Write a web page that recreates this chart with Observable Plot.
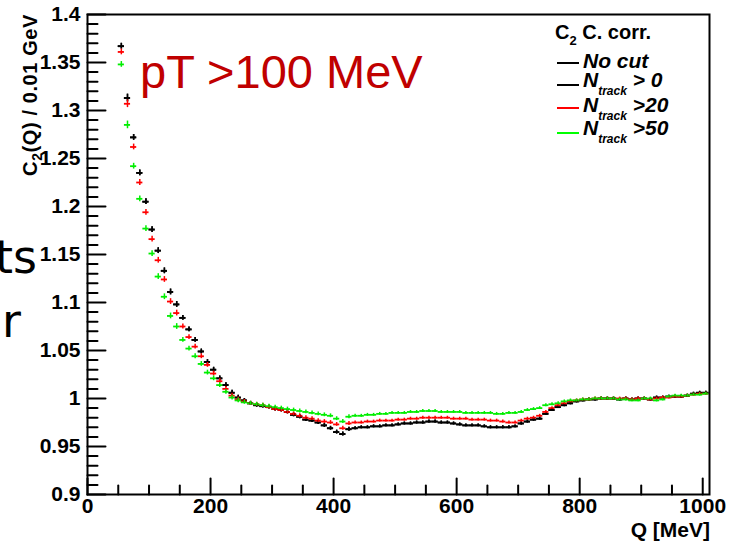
<!DOCTYPE html>
<html>
<head>
<meta charset="utf-8">
<script src="https://cdn.jsdelivr.net/npm/d3@7"></script>
<script src="https://cdn.jsdelivr.net/npm/@observablehq/plot@0.6"></script>
<style>
  html, body { margin: 0; padding: 0; background: #fff; }
  #chart svg { display: block; }
</style>
</head>
<body>
<div id="chart"></div>
<script>
// ---- data ----
const binWidth = 10; // MeV (0.01 GeV)
const qCenters = [
  55, 65, 75, 85, 95, 105, 115, 125, 135, 145,
  155, 165, 175, 185, 195, 205, 215, 225, 235, 245,
  255, 265, 275, 285, 295, 305, 315, 325, 335, 345,
  355, 365, 375, 385, 395, 405, 415, 425, 435, 445,
  455, 465, 475, 485, 495, 505, 515, 525, 535, 545,
  555, 565, 575, 585, 595, 605, 615, 625, 635, 645,
  655, 665, 675, 685, 695, 705, 715, 725, 735, 745,
  755, 765, 775, 785, 795, 805, 815, 825, 835, 845,
  855, 865, 875, 885, 895, 905, 915, 925, 935, 945,
  955, 965, 975, 985, 995, 1005
];
const noCut = [
  1.367, 1.313, 1.272, 1.235, 1.205, 1.176, 1.154, 1.133, 1.111, 1.098,
  1.084, 1.072, 1.061, 1.049, 1.038, 1.030, 1.021, 1.014, 1.006, 1.001,
  0.998, 0.995, 0.993, 0.992, 0.991, 0.989, 0.988, 0.986, 0.983, 0.981,
  0.978, 0.977, 0.975, 0.972, 0.969, 0.965, 0.963, 0.968, 0.969, 0.970,
  0.970, 0.971, 0.971, 0.972, 0.972, 0.973, 0.974, 0.974, 0.975, 0.975,
  0.976, 0.976, 0.975, 0.975, 0.974, 0.973, 0.972, 0.972, 0.972, 0.971,
  0.970, 0.970, 0.970, 0.970, 0.971, 0.974, 0.976, 0.978, 0.979, 0.984,
  0.988, 0.991, 0.993, 0.995, 0.997, 0.998, 0.999, 0.999, 1.000, 1.000,
  1.000, 0.999, 1.000, 0.999, 1.000, 1.000, 0.999, 1.001, 1.001, 1.002,
  1.002, 1.002, 1.003, 1.005, 1.006, 1.006
];
const ntrack0 = noCut.slice(); // drawn on top of "No cut" (identical)
const ntrack20 = [
  1.361, 1.307, 1.262, 1.225, 1.194, 1.166, 1.144, 1.124, 1.101, 1.089,
  1.075, 1.064, 1.054, 1.044, 1.035, 1.026, 1.018, 1.010, 1.003, 0.999,
  0.997, 0.995, 0.994, 0.993, 0.991, 0.989, 0.988, 0.986, 0.984, 0.982,
  0.980, 0.979, 0.977, 0.976, 0.975, 0.973, 0.969, 0.974, 0.975, 0.975,
  0.976, 0.976, 0.977, 0.977, 0.977, 0.978, 0.978, 0.979, 0.979, 0.980,
  0.980, 0.980, 0.980, 0.980, 0.979, 0.979, 0.979, 0.978, 0.978, 0.978,
  0.977, 0.977, 0.976, 0.975, 0.975, 0.977, 0.979, 0.980, 0.982, 0.986,
  0.990, 0.993, 0.995, 0.997, 0.998, 0.999, 0.999, 1.000, 1.000, 1.000,
  1.000, 1.000, 1.000, 0.999, 1.000, 1.000, 0.999, 1.000, 1.001, 1.001,
  1.002, 1.002, 1.003, 1.004, 1.005, 1.005
];
const ntrack50 = [
  1.348, 1.285, 1.242, 1.208, 1.177, 1.151, 1.127, 1.106, 1.086, 1.075,
  1.061, 1.052, 1.044, 1.036, 1.027, 1.021, 1.014, 1.007, 1.001, 0.998,
  0.996, 0.995, 0.994, 0.993, 0.992, 0.991, 0.990, 0.989, 0.988, 0.987,
  0.986, 0.985, 0.984, 0.983, 0.982, 0.979, 0.976, 0.981, 0.982, 0.982,
  0.983, 0.983, 0.984, 0.984, 0.985, 0.985, 0.985, 0.986, 0.986, 0.987,
  0.987, 0.987, 0.986, 0.986, 0.986, 0.986, 0.985, 0.985, 0.985, 0.985,
  0.985, 0.984, 0.984, 0.985, 0.985, 0.986, 0.988, 0.989, 0.990, 0.993,
  0.994, 0.995, 0.997, 0.998, 0.998, 0.999, 0.999, 1.000, 1.000, 1.000,
  1.000, 0.999, 0.999, 0.998, 0.998, 1.000, 1.000, 0.998, 0.999, 1.002,
  1.003, 1.003, 1.003, 1.004, 1.004, 1.005
];
const errors = [
  0.003, 0.004, 0.003, 0.003, 0.003, 0.003, 0.003, 0.003, 0.003, 0.003,
  0.0025, 0.0025, 0.0025, 0.0025, 0.0025, 0.0025, 0.0025, 0.0025, 0.0025, 0.0025,
  0.002, 0.002, 0.002, 0.002, 0.002, 0.002, 0.002, 0.002, 0.002, 0.002,
  0.002, 0.002, 0.002, 0.002, 0.002, 0.002, 0.002, 0.002, 0.0015, 0.0015,
  0.0015, 0.0015, 0.0015, 0.0015, 0.0015, 0.0015, 0.0015, 0.0015, 0.0015, 0.0015,
  0.0015, 0.0015, 0.0015, 0.0015, 0.0015, 0.0015, 0.0015, 0.0015, 0.0015, 0.0015,
  0.0015, 0.0015, 0.0015, 0.0015, 0.0015, 0.0015, 0.0015, 0.0015, 0.0015, 0.0015,
  0.0015, 0.0015, 0.0015, 0.0015, 0.0015, 0.0015, 0.0015, 0.0015, 0.0015, 0.0015,
  0.0015, 0.0015, 0.0015, 0.0015, 0.0015, 0.0015, 0.0015, 0.0015, 0.0015, 0.0015,
  0.0015, 0.0015, 0.0015, 0.0015, 0.0015, 0.0015
];
const seriesNames = ["No cut", "N_track > 0", "N_track >20", "N_track >50"];
const seriesColors = ["#000000", "#000000", "#ff0000", "#00ee00"];

const xMajor = [0, 200, 400, 600, 800, 1000];
const xLabels = ["0", "200", "400", "600", "800", "1000"];
const xMinor = [50, 100, 150, 250, 300, 350, 450, 500, 550, 650, 700, 750, 850, 900, 950];
const yMajor = [0.9, 0.95, 1.0, 1.05, 1.1, 1.15, 1.2, 1.25, 1.3, 1.35, 1.4];
const yLabels = ["0.9", "0.95", "1", "1.05", "1.1", "1.15", "1.2", "1.25", "1.3", "1.35", "1.4"];
const yMinor = [
  0.91, 0.92, 0.93, 0.94, 0.96, 0.97, 0.98, 0.99, 1.01, 1.02, 1.03, 1.04,
  1.06, 1.07, 1.08, 1.09, 1.11, 1.12, 1.13, 1.14, 1.16, 1.17, 1.18, 1.19,
  1.21, 1.22, 1.23, 1.24, 1.26, 1.27, 1.28, 1.29, 1.31, 1.32, 1.33, 1.34,
  1.36, 1.37, 1.38, 1.39
];

// ---- table ----
const seriesValues = [noCut, ntrack0, ntrack20, ntrack50];
const rows = [];
seriesValues.forEach((vals, s) => {
  vals.forEach((v, i) => rows.push({series: seriesNames[s], q: qCenters[i], v, e: errors[i], color: seriesColors[s]}));
});

const tickShape = {draw(context, l) { context.moveTo(0, 0); context.lineTo(0, -l); }};
const FONT = "'Liberation Sans', Arial, Helvetica, sans-serif";

const plot = Plot.plot({
  width: 741,
  height: 544,
  marginLeft: 87,
  marginRight: 32,
  marginTop: 14,
  marginBottom: 50,
  style: {fontFamily: FONT, fontWeight: "bold", background: "#fff", color: "#000"},
  x: {domain: [0, 1011]},
  y: {domain: [0.9, 1.4]},
  marks: [
    // data: horizontal bin-width bars and vertical error bars
    Plot.ruleY(rows, {y: "v", x1: d => d.q - binWidth / 2, x2: d => d.q + binWidth / 2, stroke: "color", strokeWidth: 1.8}),
    Plot.ruleX(rows, {x: "q", y1: d => d.v - d.e, y2: d => d.v + d.e, stroke: "color", strokeWidth: 1.5}),
    // inward ticks
    Plot.vector(yMajor, {y: d => d, frameAnchor: "left", length: 18, rotate: 90, anchor: "start", shape: tickShape, stroke: "#000", strokeWidth: 2}),
    Plot.vector(yMinor, {y: d => d, frameAnchor: "left", length: 10, rotate: 90, anchor: "start", shape: tickShape, stroke: "#000", strokeWidth: 2}),
    Plot.vector(xMajor, {x: d => d, frameAnchor: "bottom", length: 16, rotate: 0, anchor: "start", shape: tickShape, stroke: "#000", strokeWidth: 2}),
    Plot.vector(xMinor, {x: d => d, frameAnchor: "bottom", length: 9, rotate: 0, anchor: "start", shape: tickShape, stroke: "#000", strokeWidth: 2}),
    // tick labels
    Plot.axisY(yMajor, {anchor: "left", tickSize: 0, tickPadding: 7, fontSize: 21, tickFormat: d => yLabels[yMajor.indexOf(d)], label: null}),
    Plot.axisX(xMajor, {anchor: "bottom", tickSize: 0, tickPadding: 4, fontSize: 21, tickFormat: d => xLabels[xMajor.indexOf(d)], label: null}),
    Plot.frame({stroke: "#000", strokeWidth: 2})
  ]
});

document.getElementById("chart").appendChild(plot);
const svg = d3.select(plot);

// y axis title (rotated, aligned to top)
const yt = svg.append("text")
  .attr("transform", "translate(37,14) rotate(-90)")
  .attr("text-anchor", "end")
  .attr("font-family", FONT).attr("font-weight", "bold").attr("font-size", 20)
  .attr("letter-spacing", 0.6)
  .attr("fill", "#000");
yt.append("tspan").text("C");
yt.append("tspan").attr("dy", 5).attr("font-size", 14).text("2");
yt.append("tspan").attr("dy", -5).text("(Q) / 0.01 GeV");

// x axis title
svg.append("text")
  .attr("x", 710).attr("y", 537)
  .attr("text-anchor", "end")
  .attr("font-family", FONT).attr("font-weight", "bold").attr("font-size", 21)
  .attr("fill", "#000")
  .text("Q [MeV]");

// annotation
svg.append("text")
  .attr("x", 140).attr("y", 88)
  .attr("text-anchor", "start")
  .attr("font-family", FONT).attr("font-weight", "normal").attr("font-size", 47)
  .attr("fill", "#c00000")
  .text("pT >100 MeV");

// partial slide text at left edge
svg.append("text")
  .attr("x", 37).attr("y", 273).attr("text-anchor", "end")
  .attr("font-family", "'DejaVu Sans', sans-serif").attr("font-weight", "normal").attr("font-size", 46)
  .attr("fill", "#000").text("ts");
svg.append("text")
  .attr("x", 21).attr("y", 337).attr("text-anchor", "end")
  .attr("font-family", "'DejaVu Sans', sans-serif").attr("font-weight", "normal").attr("font-size", 46)
  .attr("fill", "#000").text("r");

// legend
const lg = svg.append("g").attr("font-family", FONT).attr("font-weight", "bold").attr("fill", "#000").attr("text-anchor", "start");
const hdr = lg.append("text").attr("x", 555).attr("y", 39).attr("font-size", 20);
hdr.append("tspan").text("C");
hdr.append("tspan").attr("dy", 6).attr("font-size", 13).text("2");
hdr.append("tspan").attr("dy", -6).text(" C. corr.");

const legendLineY = [63, 85, 108, 133];
const legendTextY = [68, 87, 112, 135];
seriesNames.forEach((name, i) => {
  lg.append("line")
    .attr("x1", 557).attr("x2", 579)
    .attr("y1", legendLineY[i]).attr("y2", legendLineY[i])
    .attr("stroke", seriesColors[i] === "#00ee00" ? "#00ff00" : seriesColors[i]).attr("stroke-width", 2);
  const t = lg.append("text").attr("x", 583).attr("y", legendTextY[i]).attr("font-size", 21).attr("font-style", "italic");
  if (name.startsWith("N_track")) {
    t.append("tspan").text("N");
    t.append("tspan").attr("dy", 8).attr("font-size", 12).text("track");
    t.append("tspan").attr("dy", -8).text(name.slice(7));
  } else {
    t.text(name);
  }
});
</script>
</body>
</html>
